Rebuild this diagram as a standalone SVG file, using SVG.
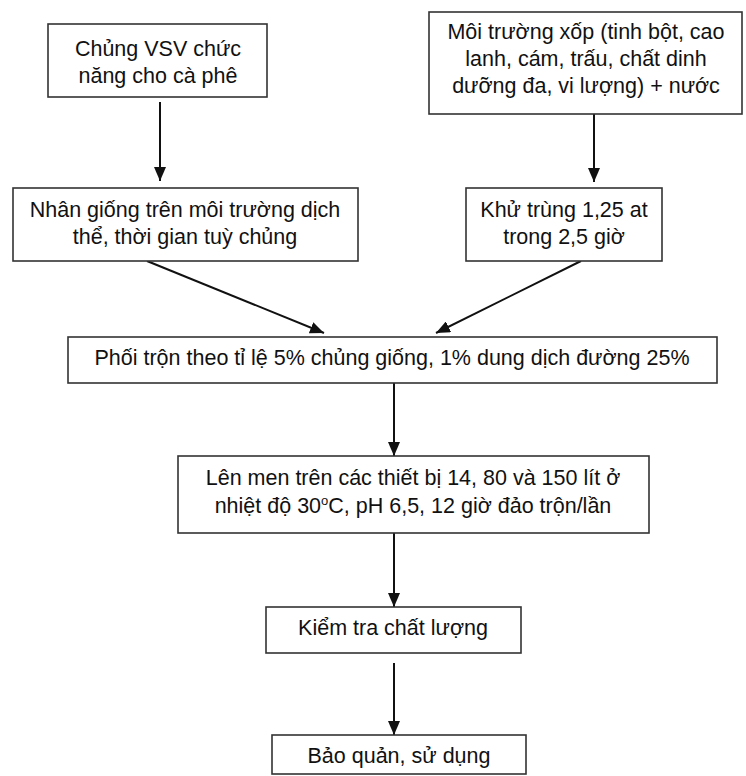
<svg xmlns="http://www.w3.org/2000/svg" width="746" height="776" viewBox="0 0 746 776">
<style>
.box{fill:#fff;stroke:#333;stroke-width:1.6}
.t{font-family:"Liberation Sans",Arial,sans-serif;font-size:21.5px;fill:#111;text-anchor:middle}
.c{stroke:#111;stroke-width:2;fill:none;marker-end:url(#ah)}
</style>
<defs>
<marker id="ah" viewBox="0 0 14 12" refX="14" refY="6" markerWidth="14" markerHeight="12" markerUnits="userSpaceOnUse" orient="auto">
<path d="M0,0 L14,6 L0,12 Z" fill="#111"/>
</marker>
</defs>
<rect width="746" height="776" fill="#fff"/>
<g id="connectors">
<line class="c" x1="160" y1="102" x2="160" y2="181"/>
<line class="c" x1="594" y1="114" x2="594" y2="182"/>
<line class="c" x1="147" y1="261" x2="324" y2="333"/>
<line class="c" x1="581" y1="261" x2="436" y2="333"/>
<line class="c" x1="394" y1="383" x2="394" y2="456"/>
<line class="c" x1="394" y1="533" x2="394" y2="607"/>
<line class="c" x1="394" y1="663" x2="394" y2="735"/>
</g>
<g id="n1">
<rect class="box" x="48" y="24" width="219" height="73"/>
<text class="t" x="158" y="56">Chủng VSV chức</text>
<text class="t" x="158" y="83">năng cho cà phê</text>
</g>
<g id="n2">
<rect class="box" x="13" y="188" width="345" height="73"/>
<text class="t" x="185" y="217">Nhân giống trên môi trường dịch</text>
<text class="t" x="185" y="244">thể, thời gian tuỳ chủng</text>
</g>
<g id="n3">
<rect class="box" x="429" y="12" width="313" height="102"/>
<text class="t" x="586" y="39">Môi trường xốp (tinh bột, cao</text>
<text class="t" x="586" y="66">lanh, cám, trấu, chất dinh</text>
<text class="t" x="586" y="93">dưỡng đa, vi lượng) + nước</text>
</g>
<g id="n4">
<rect class="box" x="466" y="188" width="196" height="73"/>
<text class="t" x="564" y="217">Khử trùng 1,25 at</text>
<text class="t" x="564" y="244">trong 2,5 giờ</text>
</g>
<g id="n5">
<rect class="box" x="68" y="337" width="649" height="46"/>
<text class="t" x="392" y="365">Phối trộn theo tỉ lệ 5% chủng giống, 1% dung dịch đường 25%</text>
</g>
<g id="n6">
<rect class="box" x="178" y="456" width="471" height="77"/>
<text class="t" x="413" y="485">Lên men trên các thiết bị 14, 80 và 150 lít ở</text>
<text class="t" x="413" y="513">nhiệt độ 30<tspan font-size="13" dy="-8">o</tspan><tspan dy="8">C, pH 6,5, 12 giờ đảo trộn/lần</tspan></text>
</g>
<g id="n7">
<rect class="box" x="266" y="607" width="255" height="46"/>
<text class="t" x="393" y="635">Kiểm tra chất lượng</text>
</g>
<g id="n8">
<rect class="box" x="272" y="735" width="254" height="39"/>
<text class="t" x="399" y="763">Bảo quản, sử dụng</text>
</g>
</svg>
